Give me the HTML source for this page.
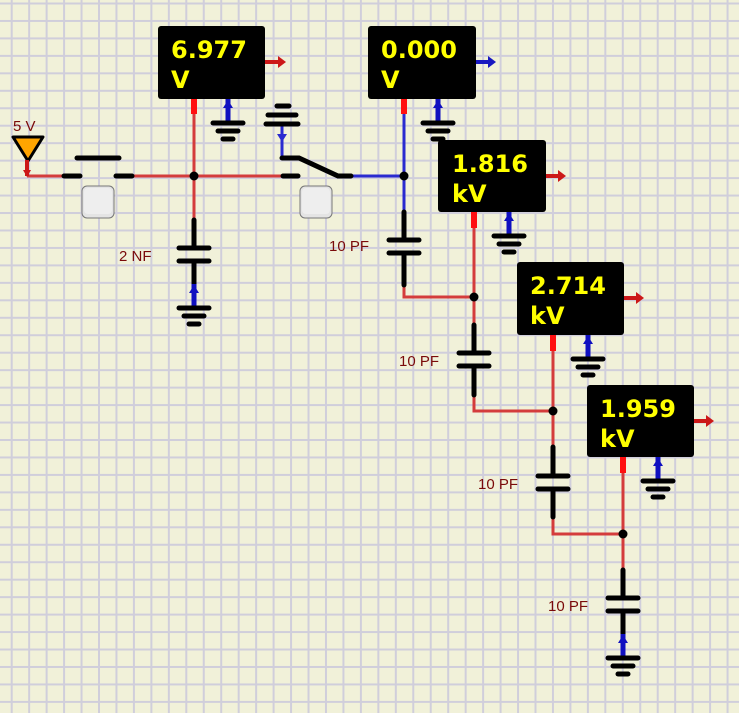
<!DOCTYPE html>
<html><head><meta charset="utf-8"><style>
html,body{margin:0;padding:0;background:#f1f1d9;}
svg{display:block;}
.t{font-family:"DejaVu Sans","Liberation Sans",sans-serif;font-weight:bold;font-size:24px;fill:#ffff00;}
.l{font-family:"Liberation Sans",sans-serif;font-size:15px;fill:#7a0a0a;}
</style></head><body>
<svg width="739" height="713" viewBox="0 0 739 713" xmlns="http://www.w3.org/2000/svg">
<defs>
<pattern id="g" x="10.7" y="2.5" width="17.46" height="17.46" patternUnits="userSpaceOnUse">
<rect x="0" y="0" width="2" height="17.46" fill="#d0cedb"/>
<rect x="0" y="0" width="17.46" height="2" fill="#d0cedb"/>
</pattern>
<g id="gnd">
<line x1="0" y1="0" x2="0" y2="22" stroke="#1010c0" stroke-width="5"/>
<path d="M-5,9 L0,1 L5,9 Z" fill="#1010c0"/>
<line x1="-15" y1="24" x2="15" y2="24" stroke="#000" stroke-width="5" stroke-linecap="round"/>
<line x1="-10" y1="32" x2="10" y2="32" stroke="#000" stroke-width="5" stroke-linecap="round"/>
<line x1="-5" y1="40" x2="5" y2="40" stroke="#000" stroke-width="5" stroke-linecap="round"/>
</g>
</defs>
<rect width="739" height="713" fill="#f1f1d9"/>
<rect width="739" height="713" fill="url(#g)"/>

<g stroke="#d43c3c" stroke-width="3" fill="none">
<polyline points="27,176 65,176"/>
<polyline points="130,176 282,176"/>
<line x1="194" y1="110" x2="194" y2="220"/>
<polyline points="404,285 404,297 474,297"/>
<line x1="474" y1="225" x2="474" y2="325"/>
<polyline points="474,395 474,411 553,411"/>
<line x1="553" y1="345" x2="553" y2="447"/>
<polyline points="553,517 553,534 623,534"/>
<line x1="623" y1="470" x2="623" y2="570"/>
</g>
<g stroke="#2a2ad0" stroke-width="3" fill="none">
<line x1="350" y1="176" x2="404" y2="176"/>
<line x1="404" y1="112" x2="404" y2="212"/>
<line x1="282" y1="124" x2="282" y2="158"/>
</g>
<path d="M277,134 L282,142 L287,134 Z" fill="#2a2ad0"/>

<path d="M13,137 L43,137 L28,161 Z" fill="#ffa500" stroke="#000" stroke-width="3" stroke-linejoin="round"/>
<line x1="27" y1="160" x2="27" y2="176" stroke="#cc1818" stroke-width="4"/>
<path d="M23,170 L27,177 L31,170 Z" fill="#cc1818"/>
<text class="l" x="13" y="131">5 V</text>

<g stroke="#000" stroke-width="5" stroke-linecap="round">
<line x1="64" y1="176" x2="80" y2="176"/>
<line x1="116" y1="176" x2="132" y2="176"/>
<line x1="77" y1="158" x2="119" y2="158"/>
</g>
<rect x="82" y="186" width="32" height="32" rx="5" fill="#e4e4e4" stroke="#777" stroke-width="1"/>
<rect x="84" y="188" width="28" height="26" rx="4" fill="#eeeeee"/>

<g stroke="#000" stroke-width="5" stroke-linecap="round" fill="none">
<line x1="283" y1="176" x2="298" y2="176"/>
<polyline points="282,158 299,158 338,176 351,176"/>
<line x1="277" y1="106" x2="289" y2="106"/>
<line x1="268" y1="115" x2="296" y2="115"/>
<line x1="266" y1="124" x2="298" y2="124"/>
</g>
<rect x="300" y="186" width="32" height="32" rx="5" fill="#e4e4e4" stroke="#777" stroke-width="1"/>
<rect x="302" y="188" width="28" height="26" rx="4" fill="#eeeeee"/>

<g stroke="#000" stroke-width="5" stroke-linecap="round">
<line x1="194" y1="220" x2="194" y2="248"/><line x1="194" y1="261" x2="194" y2="290"/>
<line x1="179" y1="248" x2="209" y2="248"/><line x1="179" y1="261" x2="209" y2="261"/>
<line x1="404" y1="212" x2="404" y2="240"/><line x1="404" y1="253" x2="404" y2="285"/>
<line x1="389" y1="240" x2="419" y2="240"/><line x1="389" y1="253" x2="419" y2="253"/>
<line x1="474" y1="325" x2="474" y2="353"/><line x1="474" y1="366" x2="474" y2="395"/>
<line x1="459" y1="353" x2="489" y2="353"/><line x1="459" y1="366" x2="489" y2="366"/>
<line x1="553" y1="447" x2="553" y2="476"/><line x1="553" y1="489" x2="553" y2="517"/>
<line x1="538" y1="476" x2="568" y2="476"/><line x1="538" y1="489" x2="568" y2="489"/>
<line x1="623" y1="570" x2="623" y2="598"/><line x1="623" y1="611" x2="623" y2="640"/>
<line x1="608" y1="598" x2="638" y2="598"/><line x1="608" y1="611" x2="638" y2="611"/>
</g>
<use href="#gnd" x="194" y="284"/>
<use href="#gnd" x="623" y="634"/>
<text class="l" x="119" y="261">2 NF</text>
<text class="l" x="329" y="251">10 PF</text>
<text class="l" x="399" y="366">10 PF</text>
<text class="l" x="478" y="489">10 PF</text>
<text class="l" x="548" y="611">10 PF</text>

<g fill="#000">
<circle cx="194" cy="176" r="4.5"/><circle cx="404" cy="176" r="4.5"/>
<circle cx="474" cy="297" r="4.5"/><circle cx="553" cy="411" r="4.5"/>
<circle cx="623" cy="534" r="4.5"/>
</g>

<g>
<rect x="158" y="26" width="107" height="73" rx="3" fill="#000"/>
<text class="t" x="171" y="58">6.977</text><text class="t" x="171" y="88">V</text>
<line x1="265" y1="62" x2="280" y2="62" stroke="#cc1818" stroke-width="4"/><path d="M278,56 L286,62 L278,68 Z" fill="#cc1818"/>
<line x1="194" y1="99" x2="194" y2="114" stroke="#ff1010" stroke-width="6"/>
<use href="#gnd" x="228" y="99"/>

<rect x="368" y="26" width="108" height="73" rx="3" fill="#000"/>
<text class="t" x="381" y="58">0.000</text><text class="t" x="381" y="88">V</text>
<line x1="476" y1="62" x2="490" y2="62" stroke="#1818c0" stroke-width="4"/><path d="M488,56 L496,62 L488,68 Z" fill="#1818c0"/>
<line x1="404" y1="99" x2="404" y2="114" stroke="#ff1010" stroke-width="6"/>
<use href="#gnd" x="438" y="99"/>

<rect x="438" y="140" width="108" height="72" rx="3" fill="#000"/>
<text class="t" x="452" y="172">1.816</text><text class="t" x="452" y="202">kV</text>
<line x1="546" y1="176" x2="560" y2="176" stroke="#cc1818" stroke-width="4"/><path d="M558,170 L566,176 L558,182 Z" fill="#cc1818"/>
<line x1="474" y1="212" x2="474" y2="228" stroke="#ff1010" stroke-width="6"/>
<use href="#gnd" x="509" y="212"/>

<rect x="517" y="262" width="107" height="73" rx="3" fill="#000"/>
<text class="t" x="530" y="294">2.714</text><text class="t" x="530" y="324">kV</text>
<line x1="624" y1="298" x2="638" y2="298" stroke="#cc1818" stroke-width="4"/><path d="M636,292 L644,298 L636,304 Z" fill="#cc1818"/>
<line x1="553" y1="335" x2="553" y2="351" stroke="#ff1010" stroke-width="6"/>
<use href="#gnd" x="588" y="335"/>

<rect x="587" y="385" width="107" height="72" rx="3" fill="#000"/>
<text class="t" x="600" y="417">1.959</text><text class="t" x="600" y="447">kV</text>
<line x1="694" y1="421" x2="708" y2="421" stroke="#cc1818" stroke-width="4"/><path d="M706,415 L714,421 L706,427 Z" fill="#cc1818"/>
<line x1="623" y1="457" x2="623" y2="473" stroke="#ff1010" stroke-width="6"/>
<use href="#gnd" x="658" y="457"/>
</g>
</svg>
</body></html>
